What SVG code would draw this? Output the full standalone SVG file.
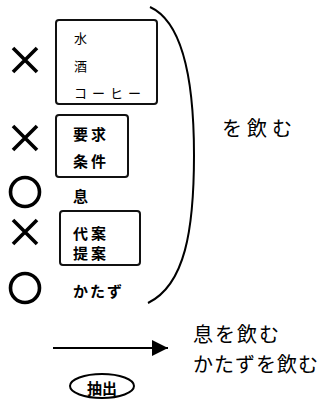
<svg xmlns="http://www.w3.org/2000/svg" width="324" height="399" viewBox="0 0 324 399">
<style>
.box{fill:#fff;stroke:#111;stroke-width:2}
.mk{fill:none;stroke:#000;stroke-width:3.6}
.t{font-family:"Noto Sans CJK JP","Noto Sans",sans-serif;fill:#000;dominant-baseline:central}
.s{font-size:13px}
.b{font-size:15px;font-weight:bold}
.l{font-size:20px}
</style>
<defs>
<marker id="ah" markerWidth="17" markerHeight="17" refX="16" refY="8" orient="auto" markerUnits="userSpaceOnUse">
<path d="M0,0 L16,8 L0,16 Z" fill="#000"/>
</marker>
</defs>
<g id="marks">
<path class="mk" d="M13,48 L37,72 M37,48 L13,72"/>
<path class="mk" d="M13,126 L37,150 M37,126 L13,150"/>
<circle class="mk" cx="25" cy="192" r="14.5"/>
<path class="mk" d="M13,220 L37,244 M37,220 L13,244"/>
<circle class="mk" cx="25" cy="288" r="14.5"/>
</g>
<g id="box1">
<rect class="box" x="56" y="20" width="101" height="84" rx="3"/>
<text class="t s" x="74" y="37">水</text>
<text class="t s" x="74" y="65">酒</text>
<text class="t s" x="74" y="92" letter-spacing="5">コーヒー</text>
</g>
<g id="box2">
<rect class="box" x="56" y="115" width="72" height="62" rx="3"/>
<text class="t b" x="73" y="133" letter-spacing="3">要求</text>
<text class="t b" x="73" y="160" letter-spacing="3">条件</text>
</g>
<g id="iki">
<text class="t b" x="73" y="195">息</text>
</g>
<g id="box3">
<rect class="box" x="60" y="211" width="80" height="54" rx="3"/>
<text class="t b" x="73" y="232" letter-spacing="3">代案</text>
<text class="t b" x="73" y="252" letter-spacing="3">提案</text>
</g>
<g id="katazu">
<text class="t b" x="73" y="290" font-size="16" letter-spacing="2">かたず</text>
</g>
<g id="bracket">
<path d="M150,7 C183,22 194,80 194,155 C194,230 185,285 148,303" fill="none" stroke="#000" stroke-width="2"/>
</g>
<g id="wonomu">
<text class="t l" x="222" y="127" letter-spacing="5">を飲む</text>
</g>
<g id="connectors">
<line x1="53" y1="348" x2="168" y2="348" stroke="#000" stroke-width="2.2" marker-end="url(#ah)"/>
</g>
<g id="chushutsu">
<ellipse cx="102" cy="386" rx="32" ry="12" fill="#fff" stroke="#000" stroke-width="2"/>
<text class="t b" x="102" y="387" text-anchor="middle" font-size="16">抽出</text>
</g>
<g id="result">
<text class="t l" x="193" y="333" letter-spacing="2">息を飲む</text>
<text class="t l" x="193" y="363" letter-spacing="1">かたずを飲む</text>
</g>
</svg>
